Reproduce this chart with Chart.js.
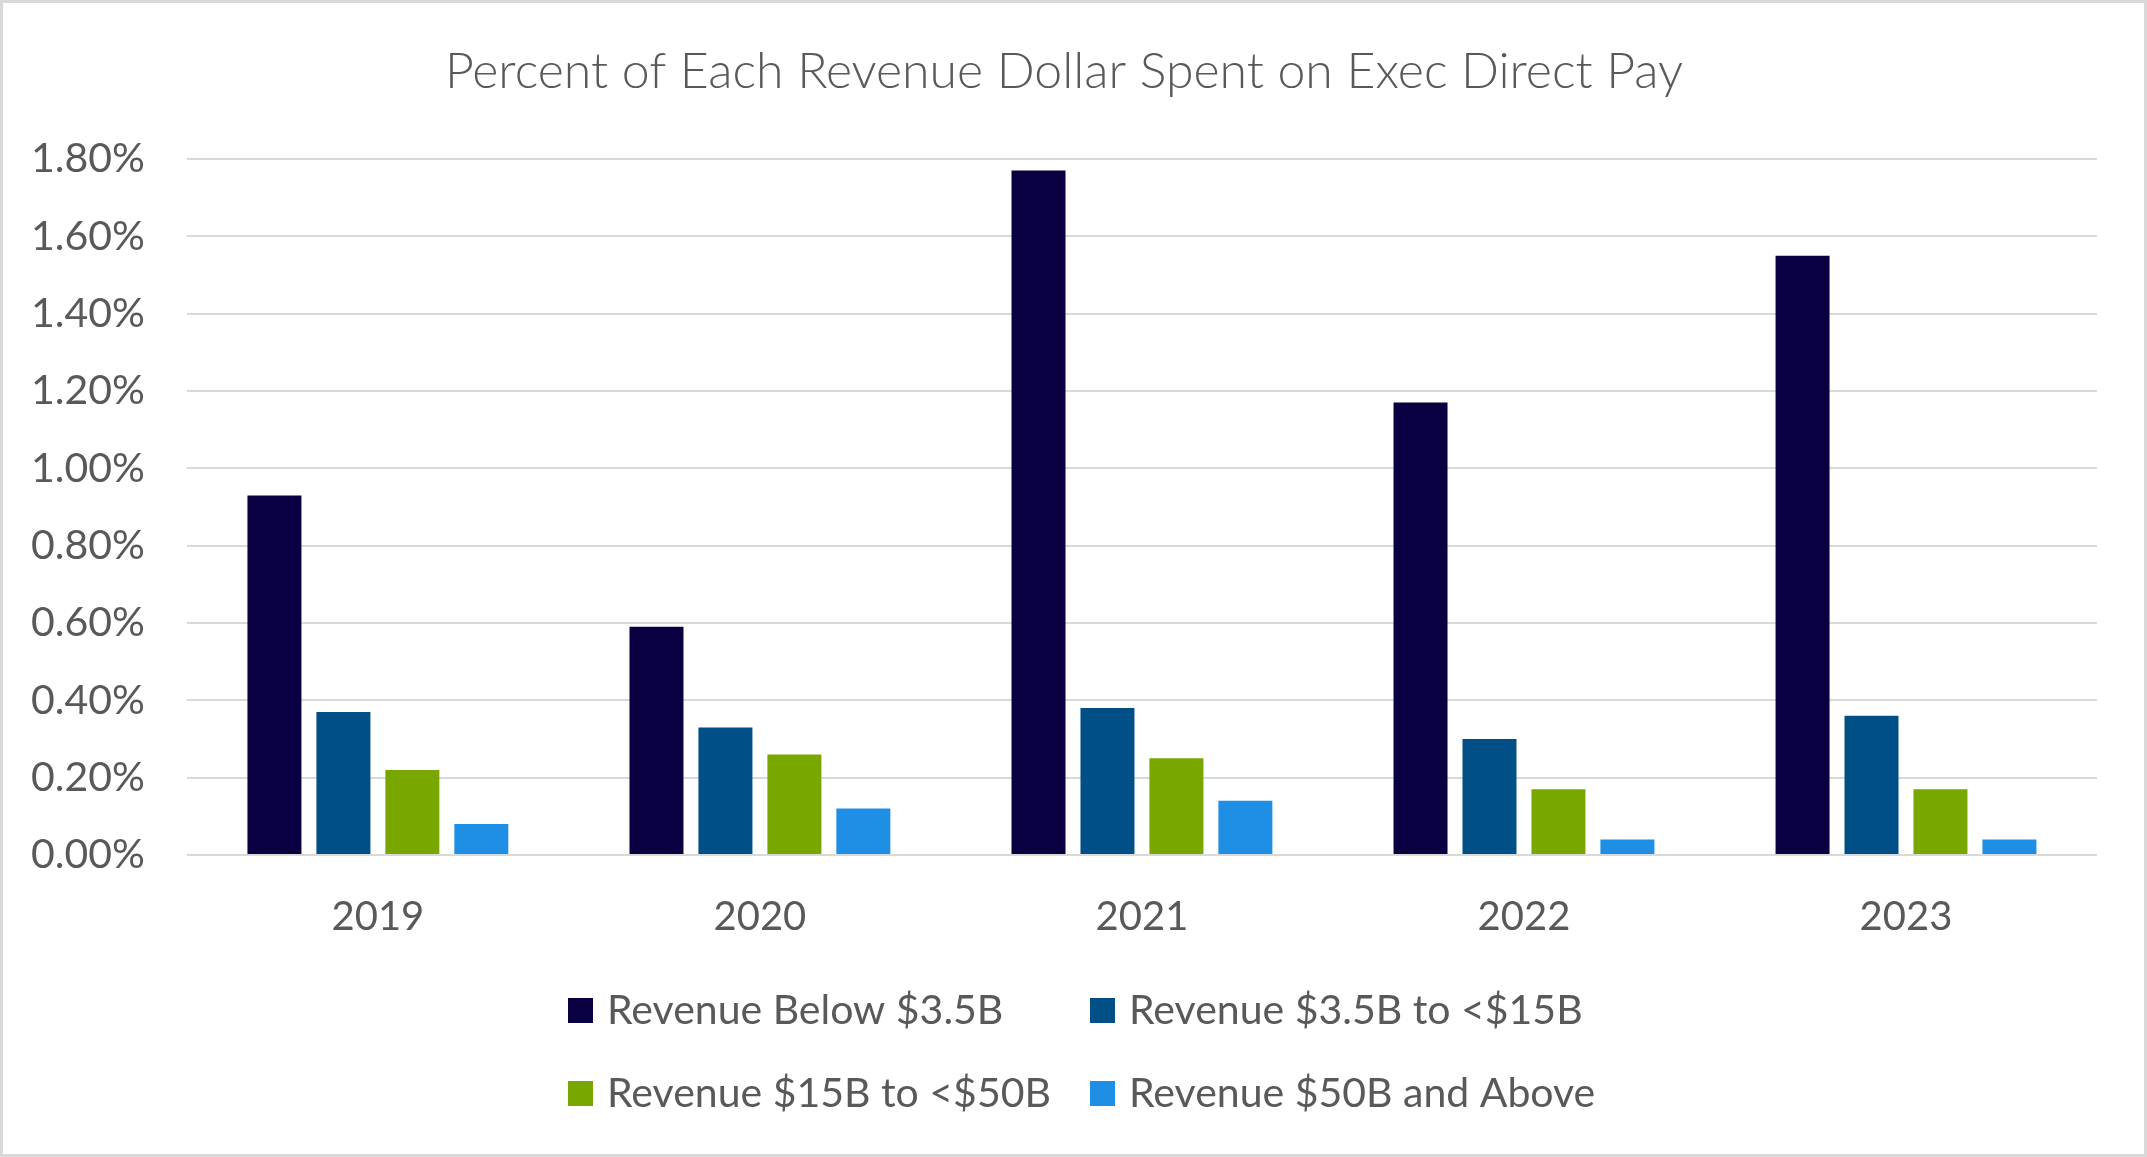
<!DOCTYPE html>
<html>
<head>
<meta charset="utf-8">
<script src="https://cdn.jsdelivr.net/npm/chart.js@4.4.1/dist/chart.umd.min.js"></script>
<style>
  html, body { margin: 0; padding: 0; background: #ffffff; }
  #wrap { width: 2147px; height: 1157px; }
</style>
</head>
<body>
<div id="wrap"><canvas id="myChart" width="2147" height="1157"></canvas></div>
<script>
const years = ['2019', '2020', '2021', '2022', '2023'];
const seriesNames = ['Revenue Below $3.5B', 'Revenue $3.5B to <$15B', 'Revenue $15B to <$50B', 'Revenue $50B and Above'];
// values in percent of revenue
const belowSmall = [0.93, 0.59, 1.77, 1.17, 1.55];
const smallMid = [0.37, 0.33, 0.38, 0.30, 0.36];
const midLarge = [0.22, 0.26, 0.25, 0.17, 0.17];
const largeUp = [0.08, 0.12, 0.14, 0.04, 0.04];
const yTicks = [0, 0.2, 0.4, 0.6, 0.8, 1.0, 1.2, 1.4, 1.6, 1.8];

const colors = ['#080041', '#004f87', '#78a800', '#1f8fe5'];
const textColor = '#595959';
const baseFont = 'Lato';

// legend drawn in two aligned columns like the original
const gridLegend = {
    id: 'gridLegend',
    afterDraw(chart) {
        const c = chart.ctx;
        const cols = [568, 1090];
        const rows = [1010, 1093];
        c.save();
        c.font = '41px ' + baseFont;
        c.textBaseline = 'middle';
        chart.data.datasets.forEach((ds, i) => {
            const x = cols[i % 2];
            const y = rows[Math.floor(i / 2)];
            c.fillStyle = ds.backgroundColor;
            c.fillRect(x, y - 12, 25, 25);
            c.fillStyle = textColor;
            c.fillText(ds.label, x + 39, y + 1);
        });
        // outer frame
        c.strokeStyle = '#d9d9d9';
        c.lineWidth = 3;
        c.strokeRect(1.5, 1.5, chart.width - 3, chart.height - 3);
        c.restore();
    }
};

const ctx = document.getElementById('myChart').getContext('2d');

const myChart = new Chart(ctx, {
    type: 'bar',
    data: {
        labels: years,
        datasets: [
            { label: seriesNames[0], data: belowSmall, backgroundColor: colors[0] },
            { label: seriesNames[1], data: smallMid, backgroundColor: colors[1] },
            { label: seriesNames[2], data: midLarge, backgroundColor: colors[2] },
            { label: seriesNames[3], data: largeUp, backgroundColor: colors[3] },
        ]
    },
    options: {
        responsive: false,
        animation: false,
        devicePixelRatio: 1,
        categoryPercentage: 0.722,
        barPercentage: 0.783,
        layout: {
            padding: { left: 31, right: 50, top: 0, bottom: 186 }
        },
        plugins: {
            legend: { display: false },
            tooltip: { enabled: false },
            title: {
                display: true,
                text: 'Percent of Each Revenue Dollar Spent on Exec Direct Pay',
                color: textColor,
                font: { family: baseFont, size: 50, weight: '300' },
                padding: { top: 42, bottom: 57 }
            }
        },
        scales: {
            x: {
                grid: { display: false },
                border: { display: false },
                ticks: {
                    color: textColor,
                    font: { family: baseFont, size: 40 },
                    padding: 30
                }
            },
            y: {
                min: 0,
                max: 1.8,
                afterBuildTicks(axis) {
                    axis.ticks = yTicks.map(v => ({ value: v }));
                },
                // padding is counted twice by default, keep just one gap
                afterFit(axis) {
                    axis.width -= axis.options.ticks.padding;
                },
                grid: { color: '#d9d9d9', lineWidth: 2, drawTicks: false },
                border: { display: false },
                ticks: {
                    color: textColor,
                    font: { family: baseFont, size: 41 },
                    padding: 42,
                    callback: v => v.toFixed(2) + '%'
                }
            }
        }
    },
    plugins: [gridLegend]
});
</script>
</body>
</html>
